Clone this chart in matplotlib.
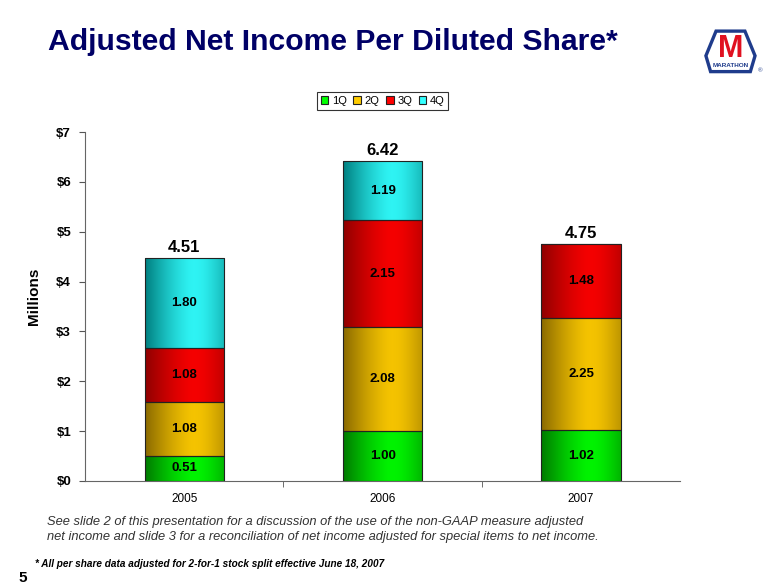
import numpy as np
import matplotlib
matplotlib.use('Agg')
import matplotlib.pyplot as plt
from matplotlib.colors import LinearSegmentedColormap
from matplotlib.patches import Polygon

plt.rcParams['font.family'] = ['Liberation Sans', 'DejaVu Sans']

years = ['2005', '2006', '2007']
quarters = ['1Q', '2Q', '3Q', '4Q']
q1 = [0.51, 1.00, 1.02]
q2 = [1.08, 2.08, 2.25]
q3 = [1.08, 2.15, 1.48]
q4 = [1.80, 1.19, 0.0]
totals = ['4.51', '6.42', '4.75']
yticks = [0, 1, 2, 3, 4, 5, 6, 7]

# (dark edge, bright centre) for the cylinder-ish shading
shades = [('#007a00', '#00ff00'),
          ('#8a6a00', '#ffcc00'),
          ('#8f0000', '#ff0000'),
          ('#007f80', '#33ffff')]

fig = plt.figure(figsize=(7.8, 5.87), dpi=100)
ax = fig.add_axes([0.109, 0.1806, 0.763, 0.5944])

x = np.arange(len(years))
width = 0.4
series = [q1, q2, q3, q4]
bottom = np.zeros(len(years))
grad = np.linspace(0, 1, 256).reshape(1, -1)
grad = np.sin(np.clip(grad * 1.25, 0, 1) * np.pi / 2) * (1 - 0.55 * np.clip((grad - 0.55) / 0.45, 0, 1) ** 1.5)
for vals, (dark, bright), name in zip(series, shades, quarters):
    vals = np.array(vals)
    cmap = LinearSegmentedColormap.from_list(name, [dark, bright])
    bars = ax.bar(x, vals, width, bottom=bottom, color=bright, edgecolor='#222222',
                  linewidth=0.8, label=name, zorder=3)
    for b, v, bt in zip(bars, vals, bottom):
        if v <= 0:
            continue
        x0 = b.get_x()
        im = ax.imshow(grad, cmap=cmap, vmin=0, vmax=1, aspect='auto',
                       extent=(x0, x0 + width, bt, bt + v), zorder=3.5)
        im.set_clip_path(b)
        b.set_facecolor('none')
        b.set_zorder(4)
        ax.text(x0 + width / 2, bt + v / 2, '%.2f' % v, ha='center', va='center',
                fontsize=9.5, fontweight='bold', color='black', zorder=5)
    bottom = bottom + vals

for xi, tot, t in zip(x, bottom, totals):
    ax.text(xi, tot + 0.06, t, ha='center', va='bottom', fontsize=12,
            fontweight='bold', color='black', zorder=5)

ax.set_xlim(-0.5, 2.5)
ax.set_ylim(0, 7)
ax.set_yticks(yticks)
ax.set_yticklabels(['$%d' % v for v in yticks], fontsize=9.5, fontweight='bold')
ax.set_xticks(x)
ax.set_xticklabels(years, fontsize=8.5)
ax.set_xticks([0.5, 1.5], minor=True)
ax.tick_params(axis='x', which='major', length=0, pad=9)
ax.tick_params(axis='x', which='minor', length=4, direction='out', color='#555555')
ax.tick_params(axis='y', length=4, color='#555555', pad=6)
for s in ['top', 'right']:
    ax.spines[s].set_visible(False)
for s in ['left', 'bottom']:
    ax.spines[s].set_color('#666666')
ax.set_ylabel('Millions', fontsize=11, fontweight='bold')
ax.yaxis.set_label_coords(-0.0735, 0.53)

leg = ax.legend(loc='center', bbox_to_anchor=(0.5, 1.089), ncol=4, fontsize=8,
                frameon=True, fancybox=False, edgecolor='black', handlelength=0.7,
                handleheight=0.7, handletextpad=0.3, columnspacing=0.6,
                borderpad=0.35)
leg.get_frame().set_linewidth(0.8)
for h, (dark, bright) in zip(leg.legend_handles, shades):
    h.set_facecolor(bright)
    h.set_edgecolor('#222222')

fig.text(0.062, 0.928, 'Adjusted Net Income Per Diluted Share*', fontsize=21.7,
         fontweight='bold', color='#000066', va='center')

# marathon logo, roughly
logo = Polygon([[0.918, 0.947], [0.955, 0.947], [0.968, 0.905], [0.962, 0.878],
                [0.911, 0.878], [0.905, 0.905]], closed=True, transform=fig.transFigure,
               facecolor='white', edgecolor='#1f3c8c', linewidth=2.4)
fig.patches.append(logo)
fig.text(0.9365, 0.917, 'M', fontsize=22, fontweight='bold', color='#e01020',
         ha='center', va='center')
fig.text(0.9365, 0.889, 'MARATHON', fontsize=4.6, fontweight='bold', color='#1f3c8c',
         ha='center', va='center')
fig.text(0.975, 0.880, '®', fontsize=4.5, color='#1f3c8c', ha='center', va='center')

fig.text(0.060, 0.111, 'See slide 2 of this presentation for a discussion of the use of the non-GAAP measure adjusted',
         fontsize=9.3, style='italic', color='#333333', va='center')
fig.text(0.060, 0.085, 'net income and slide 3 for a reconciliation of net income adjusted for special items to net income.',
         fontsize=9.3, style='italic', color='#333333', va='center')
fig.text(0.045, 0.040, '* All per share data adjusted for 2-for-1 stock split effective June 18, 2007',
         fontsize=7.2, style='italic', fontweight='bold', color='black', va='center')
fig.text(0.024, 0.016, '5', fontsize=11, fontweight='bold', color='black', va='center')

fig.savefig('out.png', dpi=100)
